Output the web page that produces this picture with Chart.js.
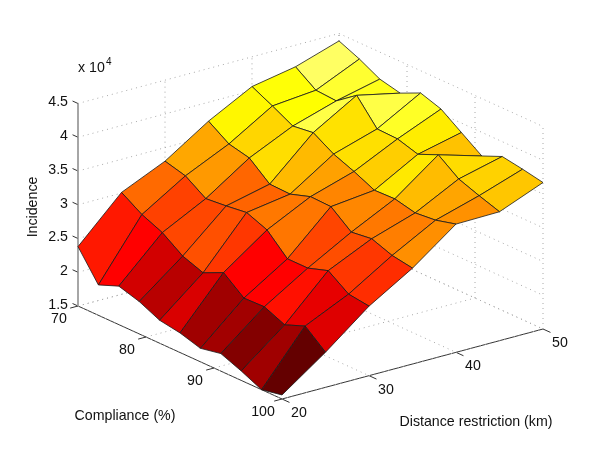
<!DOCTYPE html>
<html>
<head>
<meta charset="utf-8">
<style>
  body { margin: 0; background: #fff; }
  canvas { display: block; }
</style>
<script src="https://cdn.jsdelivr.net/npm/chart.js@4/dist/chart.umd.min.js"></script>
</head>
<body>
<canvas id="graph" width="600" height="451"></canvas>
<script>
const distances = [20, 25, 30, 35, 40, 45, 50]
const compliances = [70, 73, 76, 79, 82, 85, 88, 91, 94, 97, 100]

// incidence (x 10^4), one row per compliance value, one column per distance
const incidence = [
  [2.38, 3.01, 3.30, 3.72, 4.06, 4.18, 4.39],
  [1.95, 2.82, 3.22, 3.52, 3.91, 3.97, 4.26],
  [2.07, 2.69, 3.02, 3.45, 3.75, 3.95, 4.10],
  [1.98, 2.48, 3.05, 3.20, 3.79, 4.17, 4.03],
  [1.84, 2.37, 3.09, 3.19, 3.61, 3.81, 4.17],
  [1.79, 2.51, 2.97, 3.29, 3.49, 3.80, 4.07],
  [1.70, 2.27, 2.68, 3.28, 3.35, 3.71, 3.86],
  [1.76, 2.28, 2.68, 3.04, 3.36, 3.84, 3.65],
  [1.64, 2.15, 2.78, 3.08, 3.29, 3.62, 3.78],
  [1.50, 2.27, 2.57, 2.97, 3.32, 3.51, 3.73],
  [1.56, 2.02, 2.53, 2.92, 3.40, 3.41, 3.67]
]

const distanceTicks = [20, 30, 40, 50]
const complianceTicks = [70, 80, 90, 100]
const incidenceTicks = [1.5, 2, 2.5, 3, 3.5, 4, 4.5]

//3D axes projected onto the flat scatter scales
function project(dist, comp, z) {
  const d = (dist - 20) / 30
  const c = (comp - 70) / 30
  return {
    x: 78 + 204 * c + 261 * d,
    y: 306 + 93 * c - 70 * d - (z - 1.5) * 67.5
  }
}

function clamp(v) {
  return Math.round(Math.max(0, Math.min(1, v)) * 255)
}

//hot colormap, fitted to the reference
function hot(z) {
  const r = clamp((z - 1.6) / 1.07)
  const g = clamp((z - 2.7) / 1.25)
  const b = clamp((z - 3.95) / 0.8)
  return 'rgb(' + r + ',' + g + ',' + b + ')'
}

const datasets = []

//surface: nearest cells first because Chart.js paints the list from the end
for (let i = compliances.length - 2; i >= 0; i--) {
  for (let j = 0; j < distances.length - 1; j++) {
    const corners = [[i, j], [i + 1, j], [i + 1, j + 1], [i, j + 1], [i, j]]
    datasets.push({
      data: corners.map(c => project(distances[c[1]], compliances[c[0]], incidence[c[0]][c[1]])),
      showLine: true,
      fill: 'shape',
      backgroundColor: hot(incidence[i + 1][j + 1]),
      borderColor: '#1a1a1a',
      borderWidth: 0.8,
      pointRadius: 0,
      tension: 0
    })
  }
}

function addLine(from, to, color, dash, width) {
  datasets.push({
    data: [project(from[0], from[1], from[2]), project(to[0], to[1], to[2])],
    showLine: true,
    fill: false,
    borderColor: color,
    borderWidth: width,
    borderDash: dash,
    pointRadius: 0
  })
}

const dotted = [1, 4]
const dotColor = '#a8a8a8'
const zLow = incidenceTicks[0]
const zTop = incidenceTicks[incidenceTicks.length - 1]

//grid on the floor and on both back walls
distanceTicks.forEach(d => {
  addLine([d, 70, zLow], [d, 100, zLow], dotColor, dotted, 1)
  addLine([d, 70, zLow], [d, 70, zTop], dotColor, dotted, 1)
})
complianceTicks.forEach(c => {
  addLine([20, c, zLow], [50, c, zLow], dotColor, dotted, 1)
  addLine([50, c, zLow], [50, c, zTop], dotColor, dotted, 1)
})
incidenceTicks.forEach(z => {
  addLine([20, 70, z], [50, 70, z], dotColor, dotted, 1)
  addLine([50, 70, z], [50, 100, z], dotColor, dotted, 1)
})

//axis lines and tick marks
addLine([20, 70, zLow], [20, 100, zLow], '#333', [], 1)
addLine([20, 100, zLow], [50, 100, zLow], '#333', [], 1)
addLine([20, 70, zLow], [20, 70, zTop], '#888', [], 1.5)
complianceTicks.forEach(c => addLine([20, c, zLow], [19.1, c, zLow], '#333', [], 1))
distanceTicks.forEach(d => addLine([d, 100, zLow], [d, 101.1, zLow], '#333', [], 1))
incidenceTicks.forEach(z => addLine([20, 70, z], [20, 69.2, z], '#333', [], 1))

const axisText = {
  id: 'axisText',
  afterDraw(chart) {
    const ctx = chart.ctx
    ctx.save()
    ctx.fillStyle = '#111'
    ctx.font = '14.2px "Liberation Sans"'
    ctx.textBaseline = 'middle'

    ctx.textAlign = 'right'
    incidenceTicks.forEach(z => {
      const p = project(20, 70, z)
      ctx.fillText(String(z), chart.scales.x.getPixelForValue(p.x) - 10, chart.scales.y.getPixelForValue(p.y) - 1)
    })

    ctx.textAlign = 'center'
    complianceTicks.forEach(c => {
      const p = project(20, c, zLow)
      ctx.fillText(String(c), chart.scales.x.getPixelForValue(p.x) - 19, chart.scales.y.getPixelForValue(p.y) + 13)
    })
    distanceTicks.forEach(d => {
      const p = project(d, 100, zLow)
      ctx.fillText(String(d), chart.scales.x.getPixelForValue(p.x) + 17, chart.scales.y.getPixelForValue(p.y) + 14)
    })

    ctx.fillText('Compliance (%)', 125, 416)
    ctx.fillText('Distance restriction (km)', 476, 422)

    ctx.textAlign = 'left'
    ctx.fillText('x 10', 78, 68)
    ctx.font = '10px "Liberation Sans"'
    ctx.fillText('4', 106, 62)

    ctx.font = '14.2px "Liberation Sans"'
    ctx.textAlign = 'center'
    ctx.translate(33, 207)
    ctx.rotate(-Math.PI / 2)
    ctx.fillText('Incidence', 0, 0)
    ctx.restore()
  }
}

new Chart(document.getElementById('graph').getContext('2d'), {
  type: 'scatter',
  data: { datasets: datasets },
  options: {
    responsive: false,
    animation: false,
    layout: { padding: 0 },
    plugins: { legend: { display: false }, tooltip: { enabled: false } },
    scales: {
      x: { type: 'linear', display: false, min: 0, max: 600 },
      y: { type: 'linear', display: false, min: 0, max: 451, reverse: true }
    }
  },
  plugins: [axisText]
})
</script>
</body>
</html>
